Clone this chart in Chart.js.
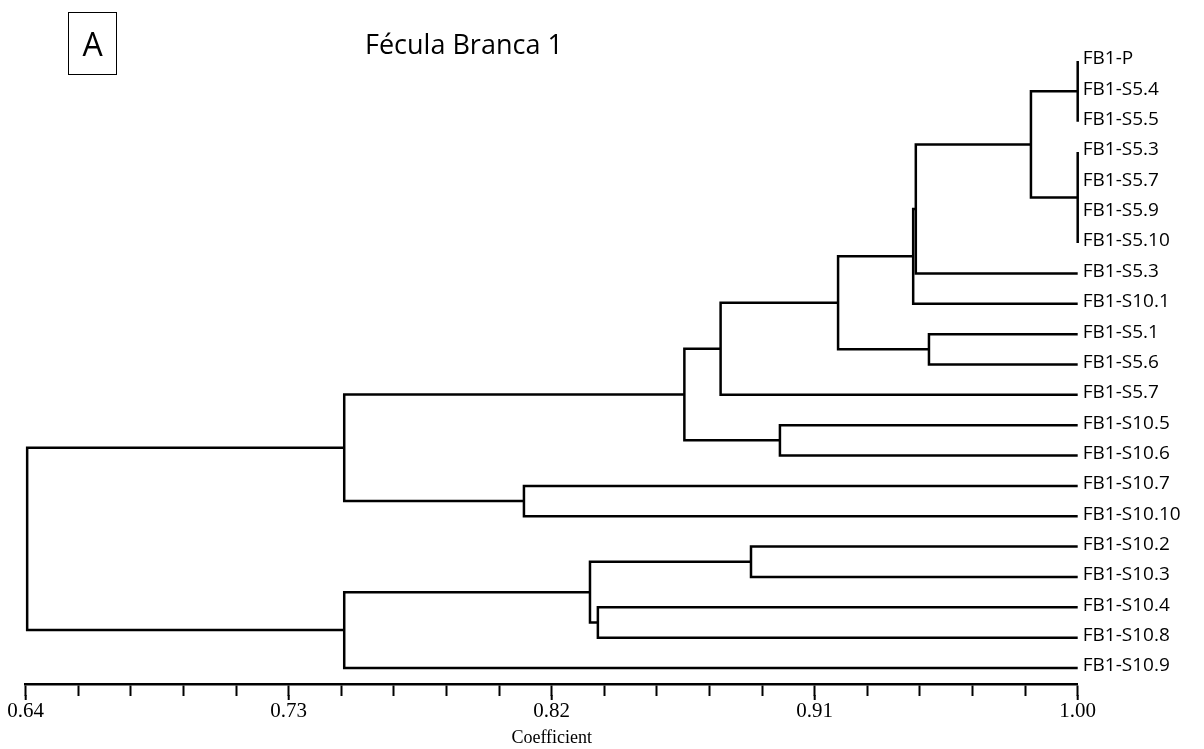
<!DOCTYPE html>
<html><head><meta charset="utf-8">
<script src="https://cdn.jsdelivr.net/npm/chart.js@4.4.1/dist/chart.umd.min.js"></script>
<style>
html,body{margin:0;padding:0;background:#fff;}
#wrap{position:relative;width:1204px;height:749px;}
#label-box{position:absolute;left:68px;top:12px;width:49px;height:63px;box-sizing:border-box;border:1.5px solid #000;display:flex;align-items:center;justify-content:center;font-family:'Open Sans';font-size:32px;line-height:1;color:#000;}
#title{position:absolute;left:365px;top:30px;font-family:'Open Sans';font-size:27px;line-height:1;color:#000;white-space:nowrap;}
</style></head>
<body><div id="wrap"><canvas id="c"></canvas><div id="label-box">A</div><div id="title">Fécula Branca 1</div></div>
<script>
// Leaves, top to bottom
const leafNames = ['FB1-P','FB1-S5.4','FB1-S5.5','FB1-S5.3','FB1-S5.7','FB1-S5.9','FB1-S5.10','FB1-S5.3','FB1-S10.1','FB1-S5.1','FB1-S5.6','FB1-S5.7','FB1-S10.5','FB1-S10.6','FB1-S10.7','FB1-S10.10','FB1-S10.2','FB1-S10.3','FB1-S10.4','FB1-S10.8','FB1-S10.9'];
// Merges: node id = leafNames.length + index
const mergeChildren = [[0,1,2],[3,4,5,6],[21,22],[23,7],[24,8],[9,10],[25,26],[27,11],[12,13],[28,29],[14,15],[30,31],[16,17],[18,19],[33,34],[35,20],[32,36]];
const mergeHeights = [1.00,1.00,0.984,0.9446,0.9437,0.9491,0.918,0.8778,0.8981,0.8654,0.8105,0.749,0.8882,0.8358,0.8331,0.749,0.6405];
const leafHeight = 1.00;
const xMajorTicks = [0.64,0.73,0.82,0.91,1.00];
const xTickLabels = ['0.64','0.73','0.82','0.91','1.00'];
const minorPerMajor = 5;
const axisTitle = 'Coefficient';

const nodeX = leafNames.map(() => leafHeight);
const nodeY = leafNames.map((_, i) => i);
mergeChildren.forEach((ch, k) => {
  nodeX.push(mergeHeights[k]);
  nodeY.push(ch.reduce((s, c) => s + nodeY[c], 0) / ch.length);
});
const datasets = [];
mergeChildren.forEach((ch, k) => {
  const h = mergeHeights[k];
  const a = ch[0], b = ch[ch.length - 1];
  datasets.push({data: [{x: nodeX[a], y: nodeY[a]}, {x: h, y: nodeY[a]}, {x: h, y: nodeY[b]}, {x: nodeX[b], y: nodeY[b]}]});
  ch.slice(1, -1).forEach(c => datasets.push({data: [{x: nodeX[c], y: nodeY[c]}, {x: h, y: nodeY[c]}]}));
});
datasets.forEach(d => Object.assign(d, {showLine: true, borderColor: '#000', borderWidth: 2.5, pointRadius: 0, pointHoverRadius: 0, fill: false, tension: 0, clip: false, borderJoinStyle: 'miter', borderCapStyle: 'butt'}));

const minorLen = 12, majorLen = 16;
const majorTickPlugin = {
  id: 'majorTicks',
  afterDraw(chart) {
    const s = chart.scales.x, ctx = chart.ctx;
    ctx.save();
    ctx.strokeStyle = '#000';
    ctx.lineWidth = 2;
    xMajorTicks.forEach(v => {
      const px = s.getPixelForValue(v);
      ctx.beginPath();
      ctx.moveTo(px, s.top + minorLen - 1);
      ctx.lineTo(px, s.top + majorLen);
      ctx.stroke();
    });
    ctx.restore();
  }
};

new Chart(document.getElementById('c'), {
  type: 'scatter',
  data: {datasets},
  plugins: [majorTickPlugin],
  options: {
    responsive: true,
    maintainAspectRatio: false,
    animation: false,
    events: [],
    layout: {padding: {left: 25.7, right: 0, top: 50, bottom: 0}},
    plugins: {legend: {display: false}, tooltip: {enabled: false}, title: {display: false}},
    scales: {
      x: {
        type: 'linear', position: 'bottom', min: 0.64, max: 1.0,
        afterBuildTicks: s => {
          const t = [];
          xMajorTicks.forEach((v, i) => {
            t.push({value: v});
            if (i < xMajorTicks.length - 1) {
              const step = (xMajorTicks[i + 1] - v) / minorPerMajor;
              for (let j = 1; j < minorPerMajor; j++) t.push({value: v + j * step});
            }
          });
          s.ticks = t;
        },
        afterFit: s => { s.height = 65; },
        ticks: {
          autoSkip: false, maxRotation: 0, minRotation: 0, padding: 3, color: '#000',
          font: {family: 'Liberation Serif', size: 21},
          callback: v => { const i = xMajorTicks.findIndex(m => Math.abs(m - v) < 1e-9); return i >= 0 ? xTickLabels[i] : ''; }
        },
        grid: {display: true, drawOnChartArea: false, drawTicks: true, tickLength: minorLen, tickWidth: 2, tickColor: '#000'},
        border: {display: true, color: '#000', width: 2.5},
        title: {display: true, text: axisTitle, color: '#000', font: {family: 'Liberation Serif', size: 18}, padding: {top: 0, bottom: 0}}
      },
      y: {
        type: 'linear', position: 'right', reverse: true, min: -0.362, max: 20.527,
        afterBuildTicks: s => { s.ticks = leafNames.map((_, i) => ({value: i})); },
        afterFit: s => { s.width = 126.3; },
        ticks: {autoSkip: false, padding: 5, labelOffset: -2, color: '#000', font: {family: 'Open Sans', size: 19}, callback: v => leafNames[v]},
        grid: {display: false, drawTicks: false},
        border: {display: false}
      }
    }
  }
});
</script>
</body></html>
